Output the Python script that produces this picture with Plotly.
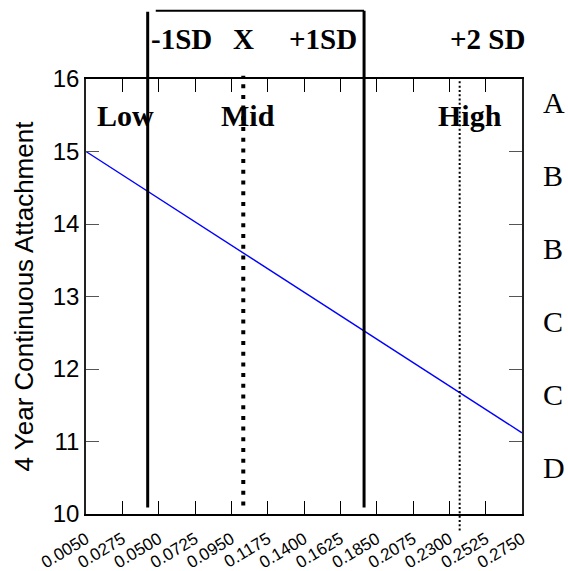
import plotly.graph_objects as go

# Predicted 4-year continuous attachment across the moderator's range
x_min, x_max = 0.005, 0.275
x_ticks = [0.0050, 0.0275, 0.0500, 0.0725, 0.0950, 0.1175, 0.1400,
           0.1625, 0.1850, 0.2075, 0.2300, 0.2525, 0.2750]
x_tick_labels = ["0.0050", "0.0275", "0.0500", "0.0725", "0.0950", "0.1175", "0.1400",
                 "0.1625", "0.1850", "0.2075", "0.2300", "0.2525", "0.2750"]
y_ticks = [10, 11, 12, 13, 14, 15, 16]

# Simple slope: end points of the fitted line
line_x = [0.005, 0.275]
line_y = [15.0, 11.12]

# Reference points on the moderator
sd_minus1 = 0.0432
mean_x = 0.1024
sd_plus1 = 0.1772
sd_plus2 = 0.2364

level_labels = ["Low", "Mid", "High"]
sd_labels = ["-1SD", "X", "+1SD", "+2 SD"]
grade_labels = ["A", "B", "B", "C", "C", "D"]

SERIF = "Liberation Serif, Times New Roman, serif"
SANS = "Liberation Sans, Arial, sans-serif"

fig = go.Figure()
fig.add_trace(go.Scatter(x=line_x, y=line_y, mode="lines",
                         line=dict(color="#0000ff", width=1.4),
                         hoverinfo="skip", showlegend=False))

shapes = [
    # -1SD / +1SD solid markers with the bracket joining them on top
    dict(type="line", xref="x", yref="paper", x0=sd_minus1, x1=sd_minus1,
         y0=0.015, y1=1.1545, line=dict(color="black", width=3)),
    dict(type="line", xref="x", yref="paper", x0=sd_plus1, x1=sd_plus1,
         y0=0.015, y1=1.157, line=dict(color="black", width=3)),
    dict(type="line", xref="x", yref="paper", x0=sd_minus1 + 0.005, x1=sd_plus1,
         y0=1.157, y1=1.157, line=dict(color="black", width=2)),
    # mean: heavy dotted line
    dict(type="line", xref="x", yref="paper", x0=mean_x, x1=mean_x,
         y0=0.0195, y1=1.0076, line=dict(color="black", width=4, dash="4px,6.7px")),
    # +2SD: fine dotted line
    dict(type="line", xref="x", yref="paper", x0=sd_plus2, x1=sd_plus2,
         y0=-0.038, y1=1.0076, line=dict(color="black", width=2, dash="2px,2.3px")),
]

annotations = []
# Low / Mid / High
for text, px in zip(level_labels, [0.0903, 0.3716, 0.8807]):
    annotations.append(dict(text="<b>%s</b>" % text, xref="paper", yref="paper",
                            x=px, y=0.9152, xanchor="center", yanchor="middle",
                            showarrow=False, font=dict(family=SERIF, size=30, color="black")))
# SD labels above the plot
for text, px, anchor in zip(sd_labels, [0.1452, 0.3617, 0.6268, 0.831],
                            ["left", "center", "right", "left"]):
    annotations.append(dict(text="<b>%s</b>" % text, xref="paper", yref="paper",
                            x=px, y=1.0922, xanchor=anchor, yanchor="middle",
                            showarrow=False, font=dict(family=SERIF, size=29, color="black")))
# Grade letters on the right
for i, text in enumerate(grade_labels):
    annotations.append(dict(text=text, xref="paper", yref="y",
                            x=1.043, y=15.67 - i * 1.005, xanchor="left", yanchor="middle",
                            showarrow=False, font=dict(family=SERIF, size=30, color="black")))

fig.update_layout(
    width=568, height=571,
    margin=dict(l=86, r=46, t=79, b=56.5),
    paper_bgcolor="white", plot_bgcolor="white",
    shapes=shapes, annotations=annotations,
    showlegend=False,
    xaxis=dict(range=[x_min, x_max], tickvals=x_ticks, ticktext=x_tick_labels,
               tickangle=-31, ticks="inside", ticklen=13, tickwidth=1.2, tickcolor="black",
               showline=True, linecolor="black", linewidth=1.5, mirror="ticks",
               showgrid=False, zeroline=False, automargin=False, ticklabelstandoff=7,
               tickfont=dict(family=SANS, size=17, color="black")),
    yaxis=dict(range=[10, 16], tickvals=y_ticks, ticks="inside", ticklen=13,
               tickwidth=1.2, tickcolor="#555", showline=True, linecolor="#222",
               linewidth=1.5, mirror="ticks", showgrid=False, zeroline=False,
               automargin=False,
               tickfont=dict(family=SANS, size=24, color="black"),
               title=dict(text="4 Year Continuous Attachment", standoff=12,
                          font=dict(family=SANS, size=26, color="black"))),
)

fig.write_html("out.html")
